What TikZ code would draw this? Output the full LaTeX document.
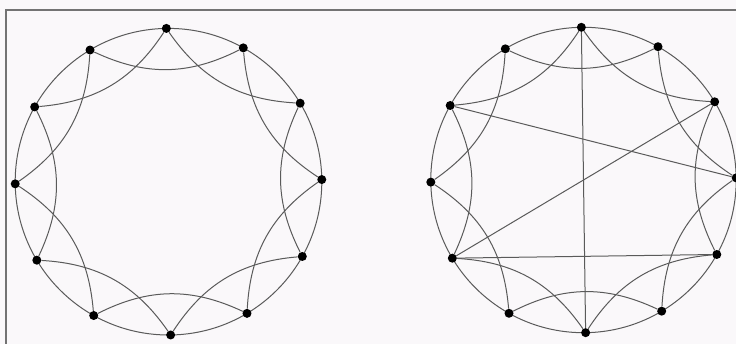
\documentclass[tikz,border=0pt]{standalone}
\usetikzlibrary{calc}
\definecolor{paper}{RGB}{250,248,250}
\definecolor{ink}{RGB}{90,90,90}
\definecolor{framec}{RGB}{115,115,115}
\tikzset{
  dot/.style={circle,fill=black,draw=none,inner sep=0pt,minimum size=9pt},
  edge/.style={draw=ink,line width=1pt},
  ring/.style={draw=ink,line width=1pt},
  framel/.style={draw=framec,line width=1.3pt}
}
\begin{document}
\begin{tikzpicture}[x=1pt,y=1pt]
  \fill[paper] (0,0) rectangle (736,344);
  \useasboundingbox (0,0) rectangle (736,344);
  % frame
  \coordinate (fa) at (6,0);
  \coordinate (fb) at (6,334);
  \coordinate (fc) at (736,334);
  \draw[framel] (fa) -- (fb) -- (fc);
  % centres
  \coordinate (Lc) at (168.5,162.3);
  \coordinate (Rc) at (583.5,164);
  \draw[ring] (Lc) circle[radius=153.3];
  \draw[ring] (Rc) circle[radius=152.7];
  % vertices
  \foreach \i in {0,...,11} {
    \node[dot] (L\i) at ($(Lc)+({\i*30+0.8}:153.3)$) {};
    \node[dot] (R\i) at ($(Rc)+({\i*30+0.8}:152.7)$) {};
  }
  % distance-two arcs
  \foreach \i [evaluate=\i as \j using {int(mod(\i+2,12))}] in {0,...,11} {
    \draw[edge] (L\i) to[bend left=26] (L\j);
    \draw[edge] (R\i) to[bend left=26] (R\j);
  }
  % straight chords on the right
  \draw[edge] (R3) -- (R9);
  \draw[edge] (R5) -- (R0);
  \draw[edge] (R1) -- (R7);
  \draw[edge] (R7) -- (R11);
\end{tikzpicture}
\end{document}
